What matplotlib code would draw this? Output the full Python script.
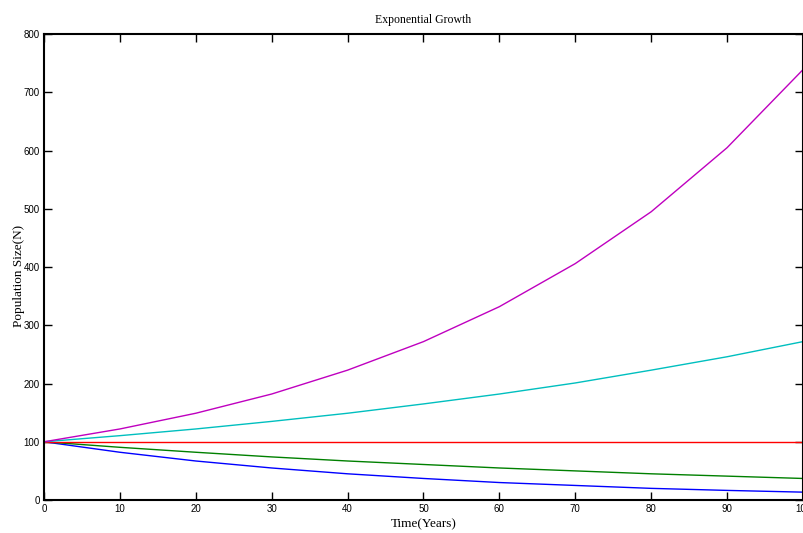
import matplotlib
matplotlib.use("Agg")
import matplotlib.pyplot as plt

# values (every 10 years)
years = [0, 10, 20, 30, 40, 50, 60, 70, 80, 90, 100]
magenta = [100, 122, 149, 182, 223, 272, 332, 406, 495, 605, 739]
cyan = [100, 110.5, 122, 135, 149, 165, 182, 201, 223, 246, 272]
red = [100, 100, 100, 100, 100, 100, 100, 100, 100, 100, 100]
green = [100, 90.5, 82, 74, 67, 61, 55, 50, 45, 41, 37]
blue = [100, 82, 67, 55, 45, 37, 30, 25, 20, 16.5, 13.5]

xticks = [0, 10, 20, 30, 40, 50, 60, 70, 80, 90, 100]
yticks = [0, 100, 200, 300, 400, 500, 600, 700, 800]

fig = plt.figure(figsize=(8.04, 5.33), dpi=100)
ax = fig.add_axes([0.0547, 0.0619, 0.944, 0.874])

ax.plot(years, blue, color="#0000ff", lw=1.0)
ax.plot(years, green, color="#008000", lw=1.0)
ax.plot(years, red, color="#ff0000", lw=1.0)
ax.plot(years, cyan, color="#00bfbf", lw=1.0)
ax.plot(years, magenta, color="#bf00bf", lw=1.0)

ax.set_xlim(0, 100)
ax.set_ylim(0, 800)
ax.set_xticks(xticks)
ax.set_yticks(yticks)
ax.tick_params(direction="in", length=6, width=1, top=True, right=True,
               labelsize=7, pad=3)
for lab in ax.get_xticklabels() + ax.get_yticklabels():
    lab.set_family("Liberation Sans")
for s in ax.spines.values():
    s.set_linewidth(1.5)

ax.set_title("Exponential Growth", family="Liberation Serif", fontsize=8.5, pad=8)
ax.set_xlabel("Time(Years)", family="Liberation Serif", fontsize=9.5, labelpad=3)
ax.set_ylabel("Population Size(N)", family="Liberation Serif", fontsize=9.5)
ax.yaxis.set_label_coords(-0.0255, 0.48)

fig.savefig("out.png", dpi=100)
